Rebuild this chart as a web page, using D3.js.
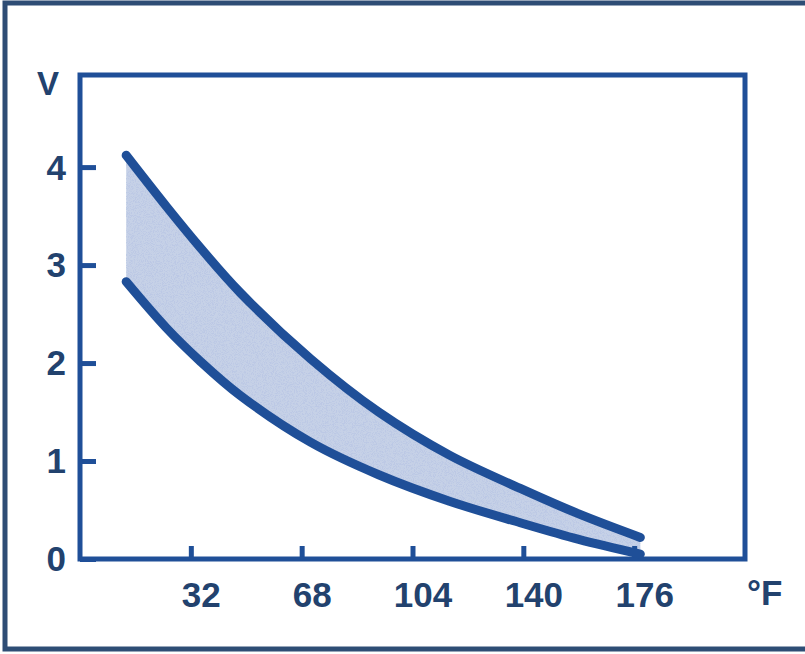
<!DOCTYPE html>
<html>
<head>
<meta charset="utf-8">
<script src="https://cdn.jsdelivr.net/npm/d3@7"></script>
<style>
  body { margin: 0; background: #fff; }
  text { font-family: "Liberation Sans", Arial, sans-serif; font-weight: bold; fill: #22426e; }
</style>
</head>
<body>
<svg id="chart" width="805" height="654"></svg>
<script>
// temperature (°F) read along the band, and the voltage at its two edges
const tempF   = [11, 24, 35, 48, 71, 93, 116, 139, 158, 178]
const upperV  = [4.12, 3.60, 3.18, 2.72, 2.04, 1.50, 1.06, 0.72, 0.46, 0.22]
const lowerV  = [2.83, 2.36, 2.02, 1.67, 1.19, 0.86, 0.59, 0.37, 0.20, 0.05]
const xTicks  = [32, 68, 104, 140, 176]
const yTicks  = [0, 1, 2, 3, 4]

const band = tempF.map((t, i) => ({t: t, hi: upperV[i], lo: lowerV[i]}))

const svg = d3.select('svg#chart')
const blue = '#1f4f98'

const x = d3.scaleLinear().domain([-4, 212]).range([80, 745])
const y = d3.scaleLinear().domain([0, 4.94]).range([559, 75])

// outer picture border (right side runs off the page)
svg.append('rect')
    .attr('x', 5).attr('y', 3)
    .attr('width', 830).attr('height', 646)
    .attr('fill', 'none')
    .attr('stroke', '#2e4d75')
    .attr('stroke-width', 5)

// grainy texture for the shaded band
const defs = svg.append('defs')
const f = defs.append('filter').attr('id', 'grain')
                .attr('x', 0).attr('y', 0).attr('width', 1).attr('height', 1)
f.append('feTurbulence').attr('type', 'fractalNoise').attr('baseFrequency', 1.1)
    .attr('numOctaves', 2).attr('seed', 4).attr('result', 'n')
f.append('feColorMatrix').attr('in', 'n').attr('type', 'matrix')
    .attr('values', '0 0 0 0 0.50  0 0 0 0 0.58  0 0 0 0 0.78  0 0 0 5 -2.3')
    .attr('result', 'c')
f.append('feComposite').attr('in', 'c').attr('in2', 'SourceGraphic')
    .attr('operator', 'in').attr('result', 't')
const m = f.append('feMerge')
m.append('feMergeNode').attr('in', 'SourceGraphic')
m.append('feMergeNode').attr('in', 't')

const area = d3.area()
                .x(d => x(d.t))
                .y0(d => y(d.lo))
                .y1(d => y(d.hi))
                .curve(d3.curveCatmullRom)

svg.append('path')
    .datum(band)
    .attr('d', area)
    .attr('fill', '#c6d1e7')
    .attr('filter', 'url(#grain)')

// axes, ticks pointing inward
const yAxis = svg.append('g')
                .attr('transform', `translate(${x.range()[0]},0)`)
                .call(d3.axisLeft(y).tickValues(yTicks).tickFormat(d3.format('d'))
                        .tickSize(-16).tickPadding(14))
const xAxis = svg.append('g')
                .attr('transform', `translate(0,${y.range()[0]})`)
                .call(d3.axisBottom(x).tickValues(xTicks).tickFormat(d3.format('d'))
                        .tickSize(-13).tickPadding(23))

for (const g of [xAxis, yAxis]) {
    g.select('.domain').remove()
    g.selectAll('.tick line').attr('stroke', blue).attr('stroke-width', 5)
    g.selectAll('.tick text').attr('font-size', 35).attr('fill', '#22426e')
}
xAxis.selectAll('.tick text').attr('dx', 10)
yAxis.selectAll('.tick text').attr('dy', '0.34em')

// plot frame
svg.append('rect')
    .attr('x', x.range()[0]).attr('y', y.range()[1])
    .attr('width', x.range()[1] - x.range()[0])
    .attr('height', y.range()[0] - y.range()[1])
    .attr('fill', 'none')
    .attr('stroke', blue)
    .attr('stroke-width', 5)

// the two edge curves
const line = key => d3.line()
                    .x(d => x(d.t))
                    .y(d => y(d[key]))
                    .curve(d3.curveCatmullRom)

svg.selectAll('path.edge')
    .data(['hi', 'lo'])
    .join('path')
    .attr('class', 'edge')
    .attr('d', k => line(k)(band))
    .attr('fill', 'none')
    .attr('stroke', blue)
    .attr('stroke-width', 9)
    .attr('stroke-linecap', 'round')

// axis titles
svg.append('text').attr('x', 48).attr('y', 95)
    .attr('text-anchor', 'middle').attr('font-size', 33).text('V')
svg.append('text').attr('x', 747).attr('y', 605)
    .attr('font-size', 35).text('°F')
</script>
</body>
</html>
